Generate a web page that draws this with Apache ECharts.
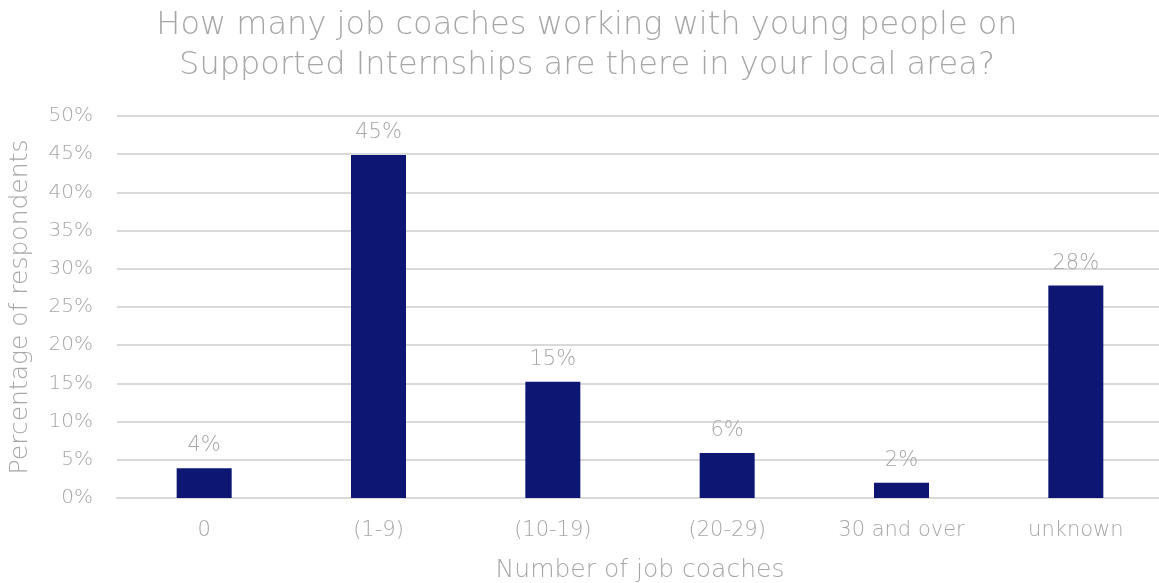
<!DOCTYPE html>
<html>
<head>
<meta charset="utf-8">
<script src="https://cdn.jsdelivr.net/npm/echarts@6/dist/echarts.min.js"></script>
<style>
  html, body { margin: 0; padding: 0; background: #fff; }
  #chart { width: 1159px; height: 583px; }
</style>
</head>
<body>
<div id="chart"></div>
<script>
// Job coach counts per local area, share of respondents (%)
const categories = ['0', '(1-9)', '(10-19)', '(20-29)', '30 and over', 'unknown'];
const shares = [3.9, 44.9, 15.2, 5.9, 2.0, 27.8];
const yTicks = [0, 5, 10, 15, 20, 25, 30, 35, 40, 45, 50];

const FONT = '"DejaVu Sans", sans-serif';
const W = 200;
const GREY = '#a6a6a6';

const chart = echarts.init(document.getElementById('chart'), null, { renderer: 'canvas' });
chart.setOption({
  animation: false,
  title: {
    text: 'How many job coaches working with young people on\nSupported Internships are there in your local area?',
    left: 582,
    top: 1,
    textAlign: 'center',
    textStyle: { fontFamily: FONT, fontWeight: W, fontSize: 32, color: GREY, lineHeight: 40 }
  },
  grid: { left: 117, right: -4, top: 116, bottom: 85, outerBoundsMode: 'none', containLabel: false },
  xAxis: {
    type: 'category',
    data: categories,
    name: 'Number of job coaches',
    nameLocation: 'middle',
    nameGap: 60,
    nameTextStyle: { fontFamily: FONT, fontWeight: W, fontSize: 25, color: GREY },
    axisLine: { lineStyle: { color: '#d9d9d9', width: 2 } },
    axisTick: { show: false },
    axisLabel: { fontFamily: FONT, fontWeight: W, fontSize: 21, color: GREY, margin: 22 }
  },
  yAxis: {
    type: 'value',
    min: yTicks[0],
    max: yTicks[yTicks.length - 1],
    interval: 5,
    name: 'Percentage of respondents',
    nameLocation: 'middle',
    nameGap: 84,
    nameTextStyle: { fontFamily: FONT, fontWeight: W, fontSize: 25, color: GREY },
    axisLine: { show: false },
    axisTick: { show: false },
    splitLine: { lineStyle: { color: '#d9d9d9', width: 2 } },
    axisLabel: { fontFamily: FONT, fontWeight: W, fontSize: 20, color: GREY, margin: 24, formatter: v => v + '%' }
  },
  series: [{
    type: 'bar',
    data: shares,
    barWidth: 55,
    itemStyle: { color: '#0d1673' },
    label: {
      show: true,
      position: 'top',
      distance: 12,
      fontFamily: FONT, fontWeight: W, fontSize: 21, color: GREY,
      formatter: p => Math.round(p.value) + '%'
    }
  }]
});
</script>
</body>
</html>
